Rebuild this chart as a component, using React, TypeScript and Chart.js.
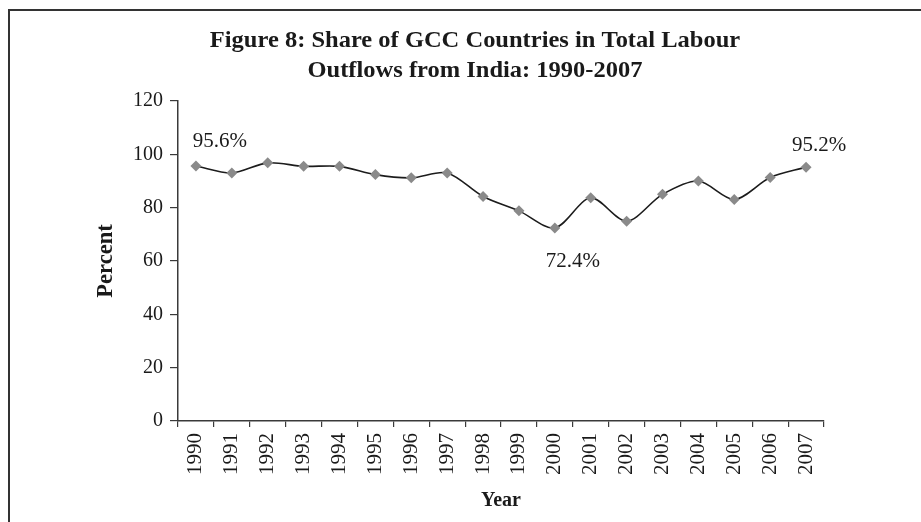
import React, { useEffect, useRef } from "react";
import { Chart, registerables } from "chart.js";

Chart.register(...registerables);

// Years on the category axis
const YEARS = [
  "1990", "1991", "1992", "1993", "1994", "1995", "1996", "1997", "1998",
  "1999", "2000", "2001", "2002", "2003", "2004", "2005", "2006", "2007",
];

// Share of GCC countries in total labour outflows (percent)
const GCC_SHARE = [
  95.6, 93.0, 96.8, 95.5, 95.5, 92.4, 91.2, 93.0, 84.2,
  78.8, 72.4, 83.7, 74.9, 85.0, 90.0, 83.1, 91.3, 95.2,
];

const Y_TICKS = [0, 20, 40, 60, 80, 100, 120];

const TITLE_LINES = [
  "Figure 8: Share of GCC Countries in Total Labour",
  "Outflows from India: 1990-2007",
];

// Years whose values are written next to the marker
const LABELLED_YEARS = ["1990", "2000", "2007"];

const SERIF = "'Liberation Serif', 'Times New Roman', serif";
const INK = "#1a1a1a";
const AXIS = "#3a3a3a";

// Offset of each value label from its marker, in pixels
const LABEL_OFFSET: Record<string, [number, number]> = {
  "1990": [24, -25],
  "2000": [18, 34],
  "2007": [13, -22],
};

const frameAndTitle = {
  id: "frameAndTitle",
  beforeDraw(chart: Chart) {
    const { ctx, width, height } = chart;
    ctx.save();
    ctx.fillStyle = "#ffffff";
    ctx.fillRect(0, 0, width, height);
    ctx.strokeStyle = "#333333";
    ctx.lineWidth = 2;
    ctx.beginPath();
    ctx.moveTo(9, height);
    ctx.lineTo(9, 10);
    ctx.lineTo(width, 10);
    ctx.stroke();
    ctx.restore();
  },
  afterDraw(chart: Chart) {
    const { ctx } = chart;
    ctx.save();
    ctx.fillStyle = INK;
    ctx.font = `bold 23px ${SERIF}`;
    ctx.textAlign = "center";
    ctx.textBaseline = "alphabetic";
    // slightly wide lettering for the heading
    ctx.translate(475, 0);
    ctx.scale(1.065, 1);
    TITLE_LINES.forEach((line, i) => {
      ctx.fillText(line, 0, 47 + i * 29.7);
    });
    ctx.restore();
  },
};

const valueLabels = {
  id: "valueLabels",
  afterDatasetsDraw(chart: Chart) {
    const { ctx } = chart;
    const meta = chart.getDatasetMeta(0);
    const values = chart.data.datasets[0].data as number[];
    ctx.save();
    ctx.fillStyle = INK;
    ctx.font = `21px ${SERIF}`;
    ctx.textAlign = "center";
    ctx.textBaseline = "middle";
    LABELLED_YEARS.forEach((year) => {
      const i = YEARS.indexOf(year);
      const pt = meta.data[i];
      const [dx, dy] = LABEL_OFFSET[year];
      ctx.fillText(`${values[i].toFixed(1)}%`, pt.x + dx, pt.y + dy);
    });
    ctx.restore();
  },
};

export default function App() {
  const canvasRef = useRef<HTMLCanvasElement | null>(null);

  useEffect(() => {
    const canvas = canvasRef.current;
    if (!canvas) return;
    const chart = new Chart(canvas, {
      type: "line",
      data: {
        labels: YEARS,
        datasets: [
          {
            data: GCC_SHARE,
            borderColor: "#1c1c1c",
            borderWidth: 1.6,
            tension: 0.3,
            pointStyle: "rectRot",
            pointRadius: 5.5,
            pointBackgroundColor: "#8a8a8a",
            pointBorderColor: "#8a8a8a",
            pointBorderWidth: 0,
            fill: false,
          },
        ],
      },
      options: {
        responsive: false,
        animation: false,
        layout: { padding: { top: 101, right: 97, left: 0, bottom: 0 } },
        plugins: {
          legend: { display: false },
          title: { display: false },
          tooltip: { enabled: false },
        },
        scales: {
          x: {
            type: "category",
            offset: true,
            afterFit: (s: any) => {
              s.height = 101;
            },
            grid: {
              display: true,
              offset: true,
              drawOnChartArea: false,
              drawTicks: true,
              tickLength: 6,
              color: AXIS,
              lineWidth: 1.2,
            },
            border: { display: true, color: AXIS, width: 1.5 },
            ticks: {
              color: INK,
              font: { family: SERIF, size: 21 },
              minRotation: 90,
              maxRotation: 90,
              padding: 6,
              autoSkip: false,
            },
            title: {
              display: true,
              text: "Year",
              color: INK,
              font: { family: SERIF, size: 20, weight: "bold" },
              padding: { top: 0, bottom: 9 },
            },
          },
          y: {
            min: 0,
            max: 120,
            afterFit: (s: any) => {
              s.width = 178;
            },
            afterBuildTicks: (s: any) => {
              s.ticks = Y_TICKS.map((v) => ({ value: v }));
            },
            grid: {
              display: true,
              drawOnChartArea: false,
              drawTicks: true,
              tickLength: 8,
              color: AXIS,
              lineWidth: 1.2,
            },
            border: { display: true, color: AXIS, width: 1.5 },
            ticks: {
              color: INK,
              font: { family: SERIF, size: 20 },
              padding: 7,
            },
            title: {
              display: true,
              text: "Percent",
              color: INK,
              font: { family: SERIF, size: 22.5, weight: "bold" },
              padding: { top: 93, bottom: 0 },
            },
          },
        },
      },
      plugins: [frameAndTitle, valueLabels],
    });
    return () => chart.destroy();
  }, []);

  return (
    <div style={{ position: "fixed", left: 0, top: 0, width: 921, height: 522, background: "#fff" }}>
      <canvas ref={canvasRef} width={921} height={522} style={{ display: "block", width: 921, height: 522 }} />
    </div>
  );
}
